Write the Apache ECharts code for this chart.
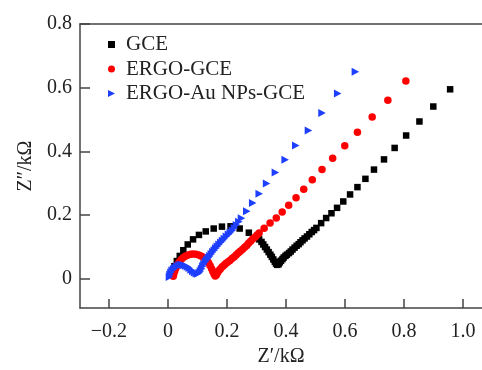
<!DOCTYPE html>
<html>
<head>
<meta charset="utf-8">
<script src="https://cdn.jsdelivr.net/npm/echarts@6/dist/echarts.min.js"></script>
<style>html,body{margin:0;padding:0;background:#fff;}#c{width:482px;height:370px;}</style>
</head>
<body>
<div id="c"></div>
<script>
var seriesNames = ['GCE', 'ERGO-GCE', 'ERGO-Au NPs-GCE'];
var xTicks = [-0.2, 0, 0.2, 0.4, 0.6, 0.8, 1.0];
var yTicks = [0, 0.2, 0.4, 0.6, 0.8];

var gce = [
 [0.015,0.020],[0.022,0.040],[0.030,0.056],[0.040,0.072],[0.052,0.090],[0.067,0.108],[0.085,0.124],
 [0.105,0.138],[0.128,0.149],[0.155,0.158],[0.183,0.164],[0.212,0.165],[0.243,0.158],[0.274,0.145],
 [0.300,0.131],[0.309,0.124],[0.317,0.116],[0.323,0.108],[0.329,0.100],[0.335,0.092],[0.341,0.084],
 [0.347,0.076],[0.352,0.069],[0.357,0.061],[0.362,0.054],[0.366,0.048],[0.370,0.044],
 [0.375,0.046],[0.379,0.052],[0.383,0.057],[0.388,0.062],[0.392,0.067],[0.398,0.072],[0.403,0.076],
 [0.410,0.081],[0.416,0.086],[0.422,0.092],[0.429,0.098],[0.436,0.104],[0.443,0.109],[0.449,0.115],
 [0.456,0.121],[0.463,0.127],[0.471,0.133],[0.479,0.140],[0.487,0.147],[0.495,0.153],[0.503,0.160],
 [0.519,0.175],[0.536,0.191],[0.554,0.206],
 [0.573,0.223],[0.594,0.243],[0.617,0.265],[0.642,0.288],[0.669,0.314],[0.698,0.343],[0.732,0.375],
 [0.768,0.411],[0.807,0.450],[0.852,0.494],[0.899,0.541],[0.956,0.595]
];
var ergo = [
 [0.018,0.008],[0.020,0.016],[0.023,0.025],[0.027,0.034],[0.032,0.044],[0.038,0.053],[0.045,0.061],
 [0.052,0.067],[0.060,0.072],[0.068,0.075],[0.077,0.077],[0.086,0.078],[0.095,0.077],[0.104,0.075],
 [0.112,0.072],[0.120,0.068],[0.127,0.063],[0.133,0.057],[0.138,0.050],[0.143,0.041],[0.148,0.032],
 [0.152,0.023],[0.156,0.015],[0.160,0.009],[0.164,0.012],[0.168,0.019],[0.173,0.026],[0.178,0.032],
 [0.184,0.038],[0.190,0.043],[0.196,0.048],[0.203,0.053],[0.210,0.058],[0.217,0.064],[0.224,0.069],
 [0.231,0.075],[0.238,0.081],[0.245,0.087],[0.253,0.093],[0.260,0.099],[0.267,0.105],[0.273,0.112],
 [0.280,0.118],[0.287,0.125],[0.295,0.131],[0.302,0.138],[0.309,0.144],[0.326,0.159],
 [0.346,0.175],[0.367,0.191],[0.387,0.210],[0.409,0.231],[0.434,0.255],[0.460,0.281],[0.489,0.311],
 [0.522,0.343],[0.558,0.379],[0.599,0.418],[0.642,0.460],[0.692,0.508],[0.745,0.561],[0.806,0.621]
];
var ergoAu = [
 [0.005,0.006],[0.007,0.013],[0.010,0.020],[0.014,0.026],[0.019,0.031],[0.024,0.035],[0.030,0.039],
 [0.036,0.042],[0.042,0.044],[0.048,0.044],[0.054,0.043],[0.060,0.041],[0.066,0.038],[0.072,0.034],
 [0.078,0.029],[0.084,0.024],[0.090,0.020],[0.096,0.017],[0.101,0.016],[0.106,0.019],[0.110,0.025],
 [0.114,0.032],[0.118,0.040],[0.122,0.047],[0.127,0.054],[0.132,0.060],[0.137,0.066],[0.142,0.072],
 [0.147,0.078],[0.152,0.084],[0.157,0.090],[0.162,0.096],[0.167,0.102],[0.173,0.108],[0.179,0.114],
 [0.185,0.120],[0.191,0.126],[0.198,0.133],[0.205,0.139],[0.211,0.145],[0.218,0.152],[0.225,0.160],
 [0.232,0.169],[0.240,0.179],[0.249,0.190],
 [0.267,0.212],[0.287,0.238],[0.309,0.267],[0.334,0.299],[0.364,0.334],[0.397,0.374],[0.433,0.419],
 [0.476,0.466],[0.522,0.521],[0.575,0.582],[0.635,0.650]
];

var FONT = '"Liberation Serif", "Times New Roman", "DejaVu Serif", serif';
var AX = '#444';
var TXT = '#222';
var triPath = 'path://M0,0 L10,5 L0,10 Z';
function fmt(v){ var s = (Math.abs(v) < 1e-9) ? '0' : (Math.abs(v-1) < 1e-9 ? '1.0' : String(Math.round(v*10)/10)); return s.replace('-', '\u2212'); }

var chart = echarts.init(document.getElementById('c'), null, {renderer:'canvas'});
chart.setOption({
  animation: false,
  backgroundColor: '#fff',
  grid: {left: 80, top: 24, right: 0, bottom: 62, containLabel: false, outerBoundsMode: 'none'},
  legend: {
    left: 103, top: 29, orient: 'vertical', itemGap: 3.5, itemWidth: 7, itemHeight: 7,
    textStyle: {fontFamily: FONT, fontSize: 21, color: TXT, padding: [0,0,0,6]},
    data: [
      {name: seriesNames[0], icon: 'rect', itemStyle: {opacity: 1}},
      {name: seriesNames[1], icon: 'circle', itemStyle: {opacity: 1}},
      {name: seriesNames[2], icon: triPath, itemStyle: {opacity: 1}}
    ]
  },
  xAxis: [{
    type: 'value', min: -0.298, max: 1.064, position: 'bottom',
    name: 'Z\u2032/k\u03A9', nameLocation: 'middle', nameGap: 38,
    nameTextStyle: {fontFamily: FONT, fontSize: 20, color: TXT},
    axisLine: {show: true, onZero: false, lineStyle: {color: AX, width: 1.5}},
    axisTick: {show: true, inside: true, length: 9, lineStyle: {color: AX, width: 1.5}, customValues: xTicks},
    axisLabel: {fontFamily: FONT, fontSize: 20, color: TXT, margin: 14, customValues: xTicks, formatter: fmt},
    splitLine: {show: false}
  }, {
    type: 'value', min: -0.298, max: 1.064, position: 'top',
    axisLine: {show: true, onZero: false, lineStyle: {color: AX, width: 1.5}},
    axisTick: {show: false}, axisLabel: {show: false}, splitLine: {show: false}
  }],
  yAxis: {
    type: 'value', min: -0.0914, max: 0.8,
    name: 'Z\u2033/k\u03A9', nameLocation: 'middle', nameGap: 42, nameRotate: 90,
    nameTextStyle: {fontFamily: FONT, fontSize: 20, color: TXT},
    axisLine: {show: true, onZero: false, lineStyle: {color: AX, width: 1.5}},
    axisTick: {show: true, inside: true, length: 10, lineStyle: {color: AX, width: 1.5}, customValues: yTicks},
    axisLabel: {fontFamily: FONT, fontSize: 20, color: TXT, margin: 8, customValues: yTicks, formatter: fmt},
    splitLine: {show: false}
  },
  series: [
    {name: seriesNames[0], type: 'scatter', data: gce, symbol: 'rect', symbolSize: 6.5,
     itemStyle: {color: '#000', opacity: 1}, z: 3},
    {name: seriesNames[1], type: 'scatter', data: ergo, symbol: 'circle', symbolSize: 7.5,
     itemStyle: {color: '#ff0000', opacity: 1}, z: 4},
    {name: seriesNames[2], type: 'scatter', data: ergoAu, symbol: triPath, symbolSize: [7.5, 8],
     itemStyle: {color: '#1f3fff', opacity: 1}, z: 5}
  ]
});
</script>
</body>
</html>
